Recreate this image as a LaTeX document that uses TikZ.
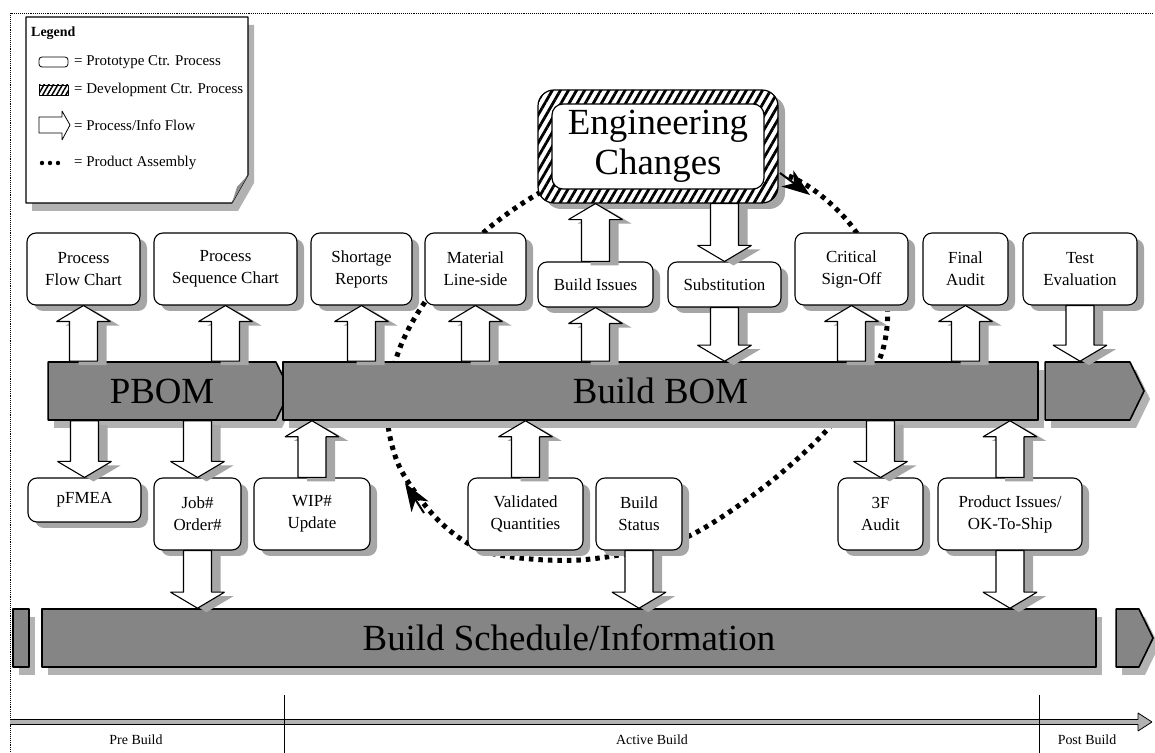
\documentclass[tikz,border=0pt]{standalone}
\usepackage{fontspec}
\setmainfont{Liberation Serif}
\usetikzlibrary{arrows.meta,calc,shapes.symbols,shadows,patterns.meta}

% fat process/info arrow from #1 to #2
\newcommand{\flowarrow}[2]{%
  \coordinate (flowa) at (#1);
  \coordinate (flowb) at (#2);
  \coordinate (flowh) at ($(flowb)!16bp!(flowa)$);
  \draw[flow] ($(flowa)!14bp!90:(flowb)$) -- ($(flowh)!14bp!90:(flowb)$) -- ($(flowh)!27bp!90:(flowb)$)
    -- (flowb) -- ($(flowh)!27bp!-90:(flowb)$) -- ($(flowh)!14bp!-90:(flowb)$) -- ($(flowa)!14bp!-90:(flowb)$) -- cycle;}

\begin{document}
\begin{tikzpicture}[join=bevel]
 \tikzstyle{proc}=[draw,line width=1.1bp,fill=white,rounded corners=9bp,inner sep=0pt,align=center,
   font=\fontsize{17}{22}\selectfont,
   drop shadow={shadow xshift=7bp,shadow yshift=-6bp,fill=black!35,opacity=1}]
 \tikzstyle{bar}=[draw,line width=1.6bp,fill=black!48,minimum height=58bp,inner sep=0pt,
   font=\fontsize{37}{40}\selectfont,
   drop shadow={shadow xshift=6bp,shadow yshift=-8bp,fill=black!30,opacity=1}]
 \tikzstyle{barend}=[bar,signal,signal to=east,signal pointer angle=128]
 \tikzstyle{flow}=[draw,line width=1.1bp,fill=white,
   drop shadow={shadow xshift=9bp,shadow yshift=-4bp,fill=black!35,opacity=1}]
 \tikzstyle{assembly}=[line width=5bp,dash pattern=on 4.5bp off 5bp]
 \tikzstyle{assemblytip}=[line width=2bp,-{Stealth[length=28bp,width=20bp,inset=8bp]}]
 \tikzstyle{hatch}=[pattern={Lines[angle=60,distance=7bp,line width=2.8bp]}]
 \tikzstyle{legendtext}=[anchor=west,inner sep=0pt,font=\fontsize{15}{17}\selectfont]
 \tikzstyle{phase}=[font=\fontsize{14}{16}\selectfont]

 \useasboundingbox (0bp,0bp) rectangle (1155bp,753bp);
 \draw[densely dotted,line width=0.9bp] (1153bp,740bp) -- (10bp,740bp) -- (10bp,0bp);

 % product assembly loop
 \draw[assembly] plot[smooth cycle] coordinates {(658bp,587bp) (780bp,580bp) (845bp,535bp) (885bp,465bp)
     (880bp,395bp) (827bp,323bp) (760bp,263bp) (680bp,213bp) (580bp,193bp) (490bp,200bp)
     (440bp,231bp) (400bp,285bp) (387bp,340bp) (398bp,400bp) (425bp,451bp) (483bp,520bp)
     (560bp,570bp)};

 % bars
 \node (pbom) at (162bp,362bp) [barend,minimum width=242bp] {PBOM};
 \node (bbom) at (660.5bp,362bp) [bar,minimum width=755bp] {Build BOM};
 \node (bbomend) at (1087.5bp,362bp) [barend,minimum width=99bp] {};
 \node (schedl) at (21bp,115bp) [bar,minimum width=16bp] {};
 \node (sched) at (569bp,115bp) [bar,minimum width=1054bp] {Build Schedule/Information};
 \node (schedend) at (1127.5bp,115bp) [barend,minimum width=37bp] {};

 % top row
 \node (pfc) at (83.5bp,484bp) [proc,minimum width=113bp,minimum height=72bp] {Process\\Flow Chart};
 \node (psc) at (225.5bp,484bp) [proc,minimum width=143bp,minimum height=72bp] {Process\\Sequence Chart};
 \node (sr) at (361.5bp,484bp) [proc,minimum width=101bp,minimum height=72bp] {Shortage\\Reports};
 \node (ml) at (475.5bp,484bp) [proc,minimum width=101bp,minimum height=72bp] {Material\\Line-side};
 \node (bi) at (595.5bp,468.5bp) [proc,minimum width=115bp,minimum height=45bp] {Build Issues};
 \node (sub) at (724.5bp,468.5bp) [proc,minimum width=113bp,minimum height=45bp] {Substitution};
 \node (cso) at (851.5bp,484bp) [proc,minimum width=113bp,minimum height=72bp] {Critical\\Sign-Off};
 \node (fa) at (965.5bp,484bp) [proc,minimum width=85bp,minimum height=72bp] {Final\\Audit};
 \node (te) at (1080bp,484bp) [proc,minimum width=114bp,minimum height=72bp] {Test\\Evaluation};

 % bottom row
 \node (pf) at (84.5bp,253bp) [proc,minimum width=113bp,minimum height=44bp] {pFMEA};
 \node (job) at (197.5bp,239bp) [proc,minimum width=87bp,minimum height=72bp] {Job\#\\Order\#};
 \node (wip) at (312bp,239bp) [proc,minimum width=116bp,minimum height=72bp] {WIP\#\\Update};
 \node (vq) at (525.5bp,239bp) [proc,minimum width=115bp,minimum height=72bp] {Validated\\Quantities};
 \node (bs) at (639bp,239bp) [proc,minimum width=86bp,minimum height=72bp] {Build\\Status};
 \node (tfa) at (880.5bp,239bp) [proc,minimum width=85bp,minimum height=72bp] {3F\\Audit};
 \node (pi) at (1010bp,239bp) [proc,minimum width=144bp,minimum height=72bp] {Product Issues/\\OK-To-Ship};

 % engineering changes
 \node (ec) at (658bp,606.5bp) [draw,line width=1.2bp,fill=white,rounded corners=16bp,
   minimum width=240bp,minimum height=113bp,postaction={hatch},
   drop shadow={shadow xshift=7bp,shadow yshift=-6bp,fill=black!35,opacity=1}] {};
 \node (ecin) at (ec.center) [draw,line width=1.2bp,fill=white,rounded corners=11bp,
   minimum width=212bp,minimum height=85bp,align=center,
   font=\fontsize{37}{40}\selectfont] {Engineering\\Changes};

 % loop direction
 \coordinate (asmtopa) at (780bp,580bp);
 \coordinate (asmtopb) at (810bp,558bp);
 \coordinate (asmbota) at (424bp,240bp);
 \coordinate (asmbotb) at (405bp,270bp);
 \draw[assemblytip] (asmtopa) -- (asmtopb);
 \draw[assemblytip] (asmbota) -- (asmbotb);

 % flows
 \flowarrow{pbom.north -| pfc}{pfc.south}
 \flowarrow{pbom.north -| psc}{psc.south}
 \flowarrow{bbom.north -| sr}{sr.south}
 \flowarrow{bbom.north -| ml}{ml.south}
 \flowarrow{bbom.north -| bi}{bi.south}
 \flowarrow{bi.north}{ec.south -| bi}
 \flowarrow{ec.south -| sub}{sub.north}
 \flowarrow{sub.south}{bbom.north -| sub}
 \flowarrow{bbom.north -| cso}{cso.south}
 \flowarrow{bbom.north -| fa}{fa.south}
 \flowarrow{te.south}{bbomend.north -| te}
 \flowarrow{pbom.south -| pf}{pf.north}
 \flowarrow{pbom.south -| job}{job.north}
 \flowarrow{wip.north}{bbom.south -| wip}
 \flowarrow{vq.north}{bbom.south -| vq}
 \flowarrow{bbom.south -| tfa}{tfa.north}
 \flowarrow{pi.north}{bbom.south -| pi}
 \flowarrow{job.south}{sched.north -| job}
 \flowarrow{bs.south}{sched.north -| bs}
 \flowarrow{pi.south}{sched.north -| pi}

 % legend
 \draw[line width=1.1bp,fill=white,drop shadow={shadow xshift=6bp,shadow yshift=-8bp,fill=black!30,opacity=1}]
   (26bp,736bp) -- (248bp,736bp) -- (248bp,578bp) -- (232bp,550bp) -- (26bp,550bp) -- cycle;
 \fill[black!45] (232bp,550bp) -- (248bp,578bp) -- (237bp,566bp) -- cycle;
 \node (legendtitle) at (31bp,720bp) [legendtext,font=\fontsize{14}{16}\selectfont\bfseries] {Legend};
 \draw[line width=0.8bp,rounded corners=3bp] (39bp,686bp) rectangle (68bp,696bp);
 \node (lgproto) at (74bp,691bp) [legendtext] {= Prototype Ctr. Process};
 \draw[line width=0.8bp,fill=white,postaction={pattern={Lines[angle=60,distance=4bp,line width=1.5bp]}}]
   (39bp,658bp) rectangle (68bp,668bp);
 \node (lgdev) at (74bp,663bp) [legendtext] {= Development Ctr. Process};
 \draw[line width=0.8bp] (39bp,620bp) -- (62bp,620bp) -- (62bp,613bp) -- (70bp,628bp) -- (62bp,642bp)
   -- (62bp,636bp) -- (39bp,636bp) -- cycle;
 \node (lgflow) at (74bp,628bp) [legendtext] {= Process/Info Flow};
 \foreach \dx in {42,50,58} \fill (\dx bp,590bp) circle (2.2bp);
 \node (lgasm) at (74bp,590bp) [legendtext] {= Product Assembly};

 % time line
 \draw[line width=0.8bp,fill=black!30] (10bp,33.5bp) -- (1138bp,33.5bp) -- (1138bp,40bp) -- (1152bp,31bp)
   -- (1138bp,22bp) -- (1138bp,28.5bp) -- (10bp,28.5bp);
 \coordinate (pretop) at (284bp,58bp);
 \coordinate (prebot) at (284bp,0bp);
 \coordinate (posttop) at (1039bp,58bp);
 \coordinate (postbot) at (1039bp,0bp);
 \draw[line width=0.8bp] (pretop) -- (prebot);
 \draw[line width=0.8bp] (posttop) -- (postbot);
 \node (pre) at (136bp,13bp) [phase] {Pre Build};
 \node (active) at (652bp,13bp) [phase] {Active Build};
 \node (post) at (1087bp,13bp) [phase] {Post Build};
\end{tikzpicture}
\end{document}
